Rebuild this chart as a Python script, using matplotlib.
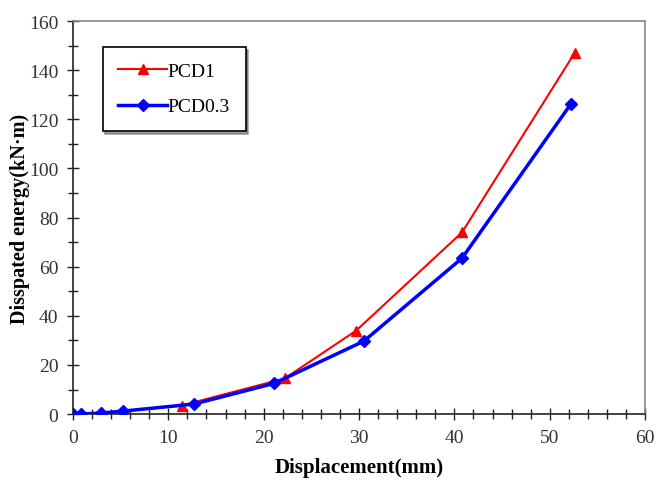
import matplotlib
matplotlib.use("Agg")
import matplotlib.pyplot as plt
from matplotlib.ticker import MultipleLocator

plt.rcParams['font.family'] = ['Liberation Serif', 'DejaVu Serif']

pcd1_x = [0, 0.8, 3.0, 5.2, 11.4, 22.2, 29.7, 40.8, 52.6]
pcd1_y = [0, 0, 0.6, 1.1, 3.5, 14.5, 34, 74, 147]
pcd03_x = [0, 0.8, 2.9, 5.2, 12.7, 21.1, 30.5, 40.8, 52.2]
pcd03_y = [0, 0, 0.4, 1.2, 4.1, 12.5, 29.7, 63.5, 126.2]

fig = plt.figure(figsize=(6.57, 4.81), dpi=100)
ax = fig.add_axes([0.111, 0.137, 0.871, 0.817])

ax.plot(pcd1_x, pcd1_y, color='red', lw=1.5, marker='^', ms=7, label='PCD1', zorder=3)
ax.plot(pcd03_x, pcd03_y, color='blue', lw=2.5, marker='D', ms=6, label='PCD0.3', zorder=4)

ax.set_xlim(0, 60)
ax.set_ylim(0, 160)
ax.xaxis.set_major_locator(MultipleLocator(10))
ax.xaxis.set_minor_locator(MultipleLocator(2))
ax.yaxis.set_major_locator(MultipleLocator(20))
ax.yaxis.set_minor_locator(MultipleLocator(10))
ax.tick_params(which='major', direction='inout', length=9, width=1, labelsize=14, color='#222222')
ax.tick_params(which='minor', direction='inout', length=7, width=1, color='#222222')
ax.tick_params(axis='x', pad=6)
ax.tick_params(axis='y', pad=6)
for lbl in ax.get_xticklabels() + ax.get_yticklabels():
    lbl.set_color('#333333')

for s in ['left', 'bottom']:
    ax.spines[s].set_color('#222222')
    ax.spines[s].set_linewidth(1.2)
for s in ['top', 'right']:
    ax.spines[s].set_color('#888888')
    ax.spines[s].set_linewidth(1.2)

ax.set_xlabel('Displacement(mm)', fontsize=15, fontweight='bold', labelpad=8)
ax.set_ylabel('Disspated energy(kN·m)', fontsize=14.5, fontweight='bold', va='center')
ax.yaxis.set_label_coords(-0.092, 0.5)

leg = ax.legend(loc='upper left', bbox_to_anchor=(0.052, 0.934), fontsize=14, frameon=True,
                fancybox=False, shadow=True, edgecolor='black', borderpad=0.8,
                labelspacing=0.9, handlelength=2.5, handletextpad=0.05, borderaxespad=0)
leg.get_frame().set_linewidth(1.2)

fig.savefig('out.png', dpi=100)
